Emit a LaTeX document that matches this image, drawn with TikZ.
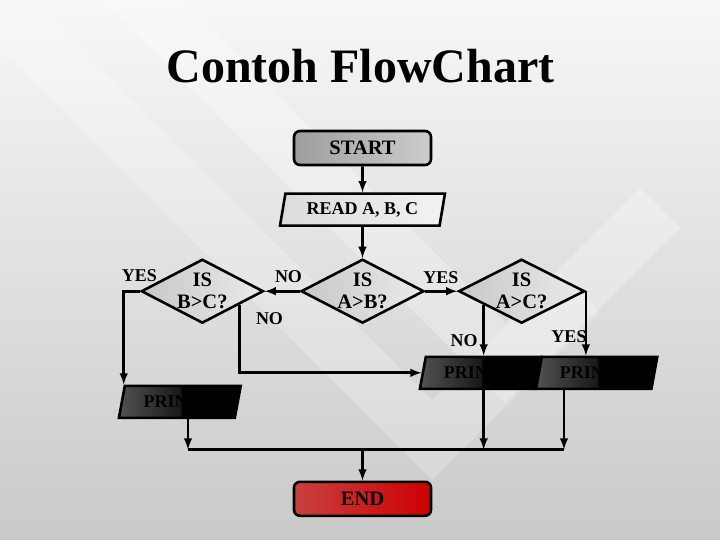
\documentclass[tikz,border=0pt]{standalone}
\usepackage{fontspec}
\setmainfont{Liberation Serif}
\usepackage{tikz}
\usetikzlibrary{arrows.meta, positioning, calc, shapes.geometric}

\newcommand{\labfont}{\bfseries\fontsize{18}{20}\selectfont}
\newcommand{\bigfont}{\bfseries\fontsize{20.5}{22}\selectfont}

\pgfdeclarehorizontalshading{printshade}{100bp}{color(0bp)=(black!68);
  color(25bp)=(black!68); color(50bp)=(black!90); color(51bp)=(black);
  color(100bp)=(black)}

\tikzset{
  term/.style={rectangle, rounded corners=6pt, draw, line width=2.6pt,
    minimum width=137pt, minimum height=34pt, font=\bigfont},
  io/.style={trapezium, trapezium stretches=true, draw, line width=2.6pt,
    trapezium left angle=77, trapezium right angle=103,
    minimum height=32pt, font=\labfont},
  printbox/.style={io, minimum width=122pt, shading=printshade},
  decision/.style={diamond, aspect=2, draw, line width=2.6pt, inner sep=0pt,
    align=center, font=\bigfont, left color=black!22, right color=black!8},
  lbl/.style={font=\labfont},
  flow/.style={->, line width=2.8pt}
}

\begin{document}
\begin{tikzpicture}[x=1pt, y=1pt, >=latex, node distance=30pt]
  % background
  \shade[top color=white!97!black, bottom color=black!21] (0,0) rectangle (720,-540);
  \fill[white, opacity=.28] (102,0) -- (505,-403) -- (680,-228) -- (640,-188)
    -- (505,-323) -- (182,0) -- cycle;
  \fill[white, opacity=.22] (0,-48) -- (432,-480) -- (600,-312) -- (560,-272)
    -- (432,-400) -- (32,0) -- (0,0) -- cycle;
  \useasboundingbox (0,0) rectangle (720,-540);

  % title
  \node (title) [anchor=base, font=\bfseries\fontsize{48}{52}\selectfont]
    at (360.5,-83) {Contoh FlowChart};

  % nodes
  \node (start) [term, left color=black!38, right color=black!20] at (362.5,-148) {START};
  \node (read) [io, below=26pt of start, minimum width=165pt,
    trapezium left angle=79, trapezium right angle=101,
    left color=black!14, right color=black!5] {READ A, B, C};
  \node (ab) [decision, below=31pt of read, minimum width=123pt, minimum height=64pt] {IS\\A>B?};
  \node (bc) [decision, left=35pt of ab, minimum width=122pt, minimum height=64pt] {IS\\B>C?};
  \node (ac) [decision, right=32pt of ab, minimum width=126pt, minimum height=64pt] {IS\\A>C?};
  \node (printc) [printbox, below=31pt of ac, xshift=-41pt] {PRINT C};
  \node (printa) [printbox, right=-2pt of printc] {PRINT A};
  \node (printb) [printbox, below=60pt of bc, xshift=-22.5pt, minimum width=123pt] {PRINT B};
  \node (finish) [term, below=156pt of ab,
    left color={rgb,255:red,200;green,64;blue,64}, right color={rgb,255:red,204;green,0;blue,0}] {END};

  % branch labels
  \node (yesbc) [lbl] at (139.5,-276) {YES};
  \node (noab) [lbl] at (288.5,-277) {NO};
  \node (yesab) [lbl] at (441,-278) {YES};
  \node (nobc) [lbl] at (269.5,-319) {NO};
  \node (noac) [lbl] at (464,-341) {NO};
  \node (yesac) [lbl] at (569,-337) {YES};

  % helper points
  \coordinate (bcno) at ($(bc.east)!0.4!(bc.south)$);
  \coordinate (acno) at ($(ac.west)!0.41!(ac.south)$);
  \coordinate (join) at ($(finish.north)+(0,31)$);
  \coordinate (joinl) at (188,0 |- join);
  \coordinate (joinr) at (564,0 |- join);

  % connectors
  \draw[flow] (start) -- (read);
  \draw[flow] (read) -- (ab);
  \draw[flow] (ab) -- (bc);
  \draw[flow] (ab) -- (ac);
  \draw[flow] (bc.west) -| (printb.top left corner);
  \draw[flow] (bcno) |- (printc.west);
  \draw[flow] (acno) -- (acno |- printc.north);
  \draw[flow] (ac.east) -- (ac.east |- printa.north);
  \draw[flow] (printb.south -| joinl) -- (joinl);
  \draw[flow] (printc.south -| acno) -- (join -| acno);
  \draw[flow] (printa.south -| joinr) -- (joinr);
  \draw[line width=2.8pt] (joinl) -- (joinr);
  \draw[flow] (join) -- (finish);
\end{tikzpicture}
\end{document}
